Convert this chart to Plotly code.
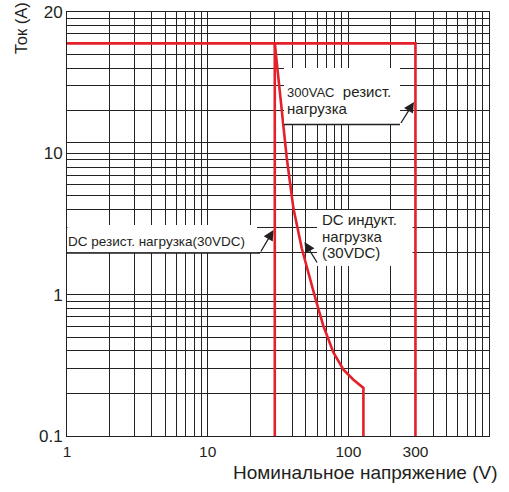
import plotly.graph_objects as go

# ---------------- data (values in axis units as drawn) ----------------
x_grid = [1, 2, 3, 4, 5, 6, 7, 8, 9,
          10, 20, 30, 40, 50, 60, 70, 80, 90,
          100, 200, 300, 400, 500, 600, 700, 800, 900, 1000]
x_labels = {1: "1", 10: "10", 100: "100", 300: "300"}
y_grid = [0.1, 0.2, 0.3, 0.4, 0.5, 0.6, 0.7, 0.8, 0.9,
          1, 2, 3, 4, 5, 6, 7, 8, 9,
          10, 12, 20, 30, 40, 50, 60, 70, 80, 90, 100]
y_labels = {0.1: "0.1", 1: "1", 10: "10", 100: "20"}

# DC resistive load (30 VDC)
dc_res_v = [1, 30, 30]
dc_res_i = [60, 60, 0.1]
# 300 VAC resistive load
ac_res_v = [30, 300, 300]
ac_res_i = [60, 60, 0.1]
# DC inductive load (30 VDC)
dc_ind_v = [30, 36.5, 40.7, 46.7, 58.5, 66.5, 78.3, 92.3, 108.7, 128, 128]
dc_ind_i = [60, 9.27, 4.08, 2.12, 0.93, 0.60, 0.39, 0.295, 0.25, 0.219, 0.1]

RED = "#e5202a"
GRID = "#222222"
TXT = "#231f20"
W, H = 509, 492
L, R, T, B = 67, 20, 12, 56
PW, PH = W - L - R, H - T - B


def px(xp):
    return (xp - L) / PW


def py(yp):
    return 1 - (yp - T) / PH


fig = go.Figure()
for xs, ys in [(dc_res_v, dc_res_i), (ac_res_v, ac_res_i), (dc_ind_v, dc_ind_i)]:
    fig.add_trace(go.Scatter(x=xs, y=ys, mode="lines",
                             line=dict(color=RED, width=2.6),
                             hoverinfo="skip", showlegend=False))

shapes = []
# white label boxes
for (x0, y0, x1, y1) in [(284, 68, 400, 124), (67.5, 225, 257, 252.5), (317, 210, 412.5, 266)]:
    shapes.append(dict(type="rect", xref="paper", yref="paper",
                       x0=px(x0), x1=px(x1), y0=py(y1), y1=py(y0),
                       fillcolor="white", line=dict(width=0), layer="above"))
# leader lines
for (x0, y0, x1, y1) in [(284, 124.5, 400, 124.5), (67, 253, 260, 253)]:
    shapes.append(dict(type="line", xref="paper", yref="paper",
                       x0=px(x0), x1=px(x1), y0=py(y0), y1=py(y1),
                       line=dict(color=TXT, width=1.3), layer="above"))

ann = []
REG = "Liberation Sans, Arial, sans-serif"


def txt(x, y, s, size=15, fam=REG):
    ann.append(dict(text=s, xref="paper", yref="paper", x=px(x), y=py(y),
                    xanchor="left", yanchor="middle", showarrow=False,
                    font=dict(size=size, family=fam, color=TXT)))


txt(285, 91.5, '<span style="font-size:13px">300VAC</span>  резист.')
txt(285, 108.5, "нагрузка")
txt(66, 241, "DC резист. нагрузка(30VDC)", size=13.5)
txt(320, 219.5, "DC индукт.")
txt(320, 236, "нагрузка")
txt(320, 252.5, "(30VDC)")

# arrows (tip px, tail px)
for (tx, ty, sx, sy) in [(414, 102, 400, 124.5), (273.5, 230, 260, 253), (304.5, 242, 318, 264)]:
    ann.append(dict(text="", xref="paper", yref="paper", x=px(tx), y=py(ty),
                    ax=sx - tx, ay=sy - ty, axref="pixel", ayref="pixel",
                    showarrow=True, arrowhead=2, arrowsize=1.6, arrowwidth=1.3,
                    arrowcolor=TXT, standoff=0))

# axis titles
ann.append(dict(text="Номинальное напряжение (V)", xref="paper", yref="paper",
                x=px(499), y=py(472), xanchor="right", yanchor="middle",
                showarrow=False, font=dict(size=19, family=REG, color=TXT)))
ann.append(dict(text="Ток (A)", xref="paper", yref="paper",
                x=px(21), y=py(28), xanchor="center", yanchor="middle",
                textangle=-90, showarrow=False,
                font=dict(size=16.5, family=REG, color=TXT)))

axis_common = dict(type="log", showgrid=True, gridcolor=GRID, gridwidth=1,
                   showline=True, linecolor=GRID, linewidth=1, mirror=True,
                   ticks="", zeroline=False)

fig.update_xaxes(range=[0, 3], tickmode="array", tickvals=x_grid,
                 ticktext=[x_labels.get(v, "") for v in x_grid],
                 ticklabelstandoff=1,
                 tickfont=dict(size=15.5, family=REG, color=TXT), **axis_common)
fig.update_yaxes(range=[-1, 2], tickmode="array", tickvals=y_grid,
                 ticktext=[y_labels.get(v, "") for v in y_grid],
                 tickfont=dict(size=17, family=REG, color=TXT), **axis_common)

fig.update_layout(width=W, height=H,
                  margin=dict(l=L, r=R, t=T, b=B, autoexpand=False),
                  paper_bgcolor="white", plot_bgcolor="white",
                  shapes=shapes, annotations=ann, showlegend=False)

fig.write_html("out.html")
